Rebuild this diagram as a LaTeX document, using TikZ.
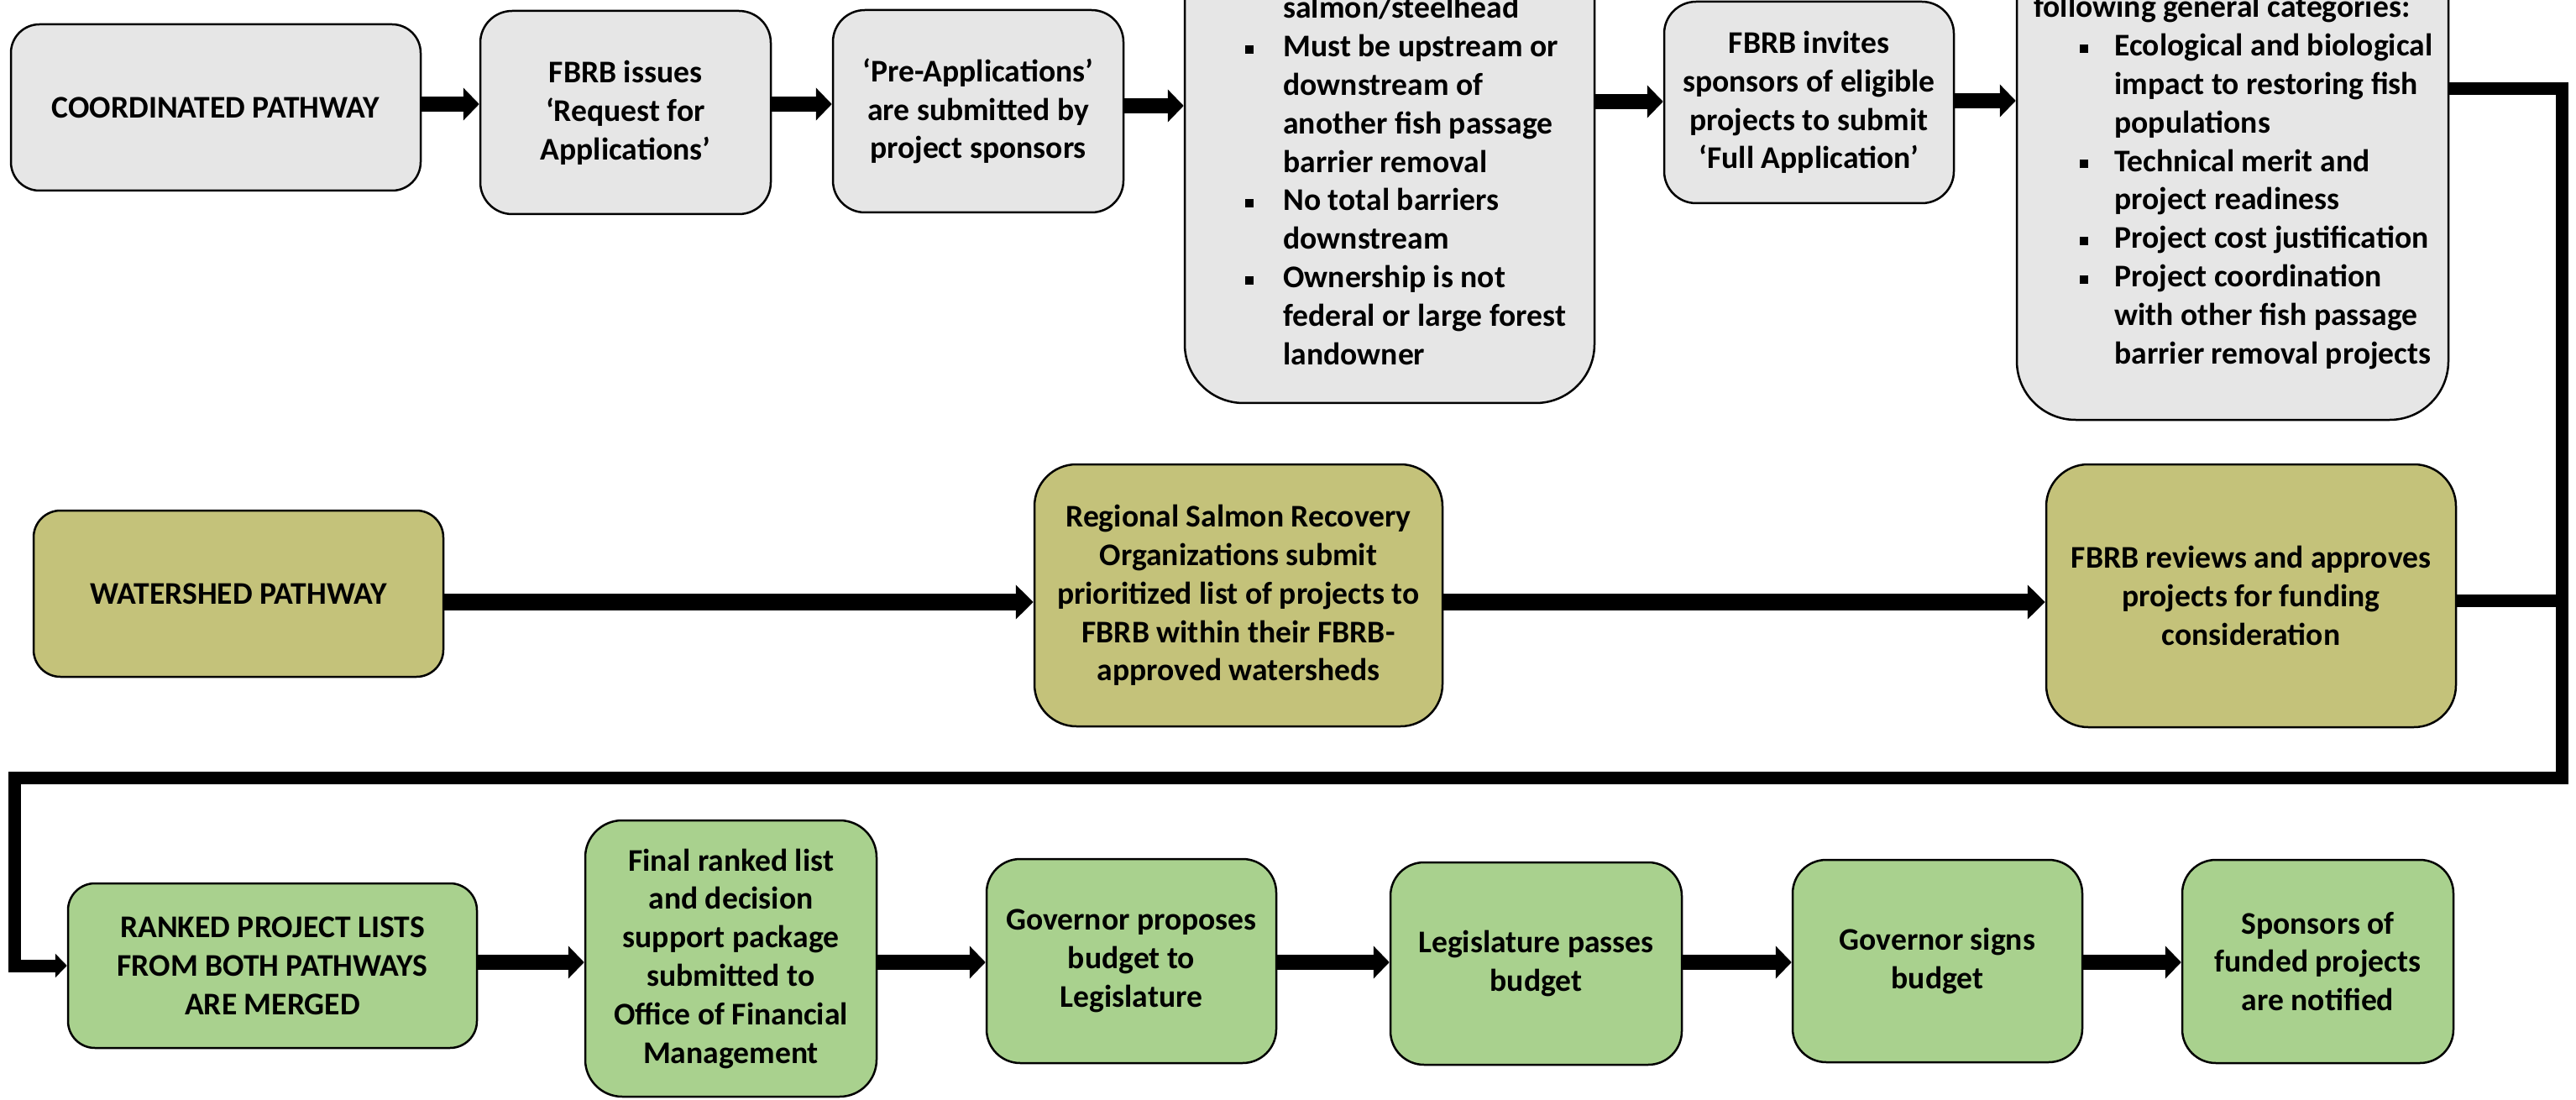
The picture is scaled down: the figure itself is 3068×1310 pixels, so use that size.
\documentclass[tikz,border=0pt]{standalone}
\usepackage{fontspec}
\setmainfont{Carlito}
\usetikzlibrary{arrows.meta}
\newlength{\pxu}\setlength{\pxu}{0.5pt}
\definecolor{boxgray}{RGB}{230,230,230}
\definecolor{boxolive}{RGB}{196,194,122}
\definecolor{boxgreen}{RGB}{169,209,142}
\newcommand{\boxfont}{\fontsize{18.8}{22.9}\selectfont\bfseries}
\newcommand{\bulsq}{\rule[2pt]{5pt}{5pt}}
\newcommand{\mybox}[8]{%
  \node[#2, minimum width={((#5)-(#3))*\pxu}, minimum height={((#6)-(#4))*\pxu}, rounded corners=#7] (#1) at ({((#3)+(#5))/2},{((#4)+(#6))/2}) {#8};}
\tikzset{
  box/.style={draw=black, line width=1.25pt, align=center, inner sep=0pt, font=\boxfont, text=black},
  graybox/.style={box, fill=boxgray},
  olivebox/.style={box, fill=boxolive},
  greenbox/.style={box, fill=boxgreen},
  listtext/.style={inner sep=0pt, font=\boxfont, text=black},
  arr/.style={line width=9pt, -{Triangle[length=9.5pt,width=19pt]}},
  warr/.style={line width=10pt, -{Triangle[length=10.5pt,width=20pt]}},
  retline/.style={line width=7.5pt, line join=miter},
  retarr/.style={retline, -{Triangle[length=7pt,width=14pt]}}
}
\begin{document}
\begin{tikzpicture}[x=0.5pt, y=-0.5pt]
\useasboundingbox (0,0) rectangle (3068,1310);
\fill[white] (0,0) rectangle (3068,1310);
\clip (0,0) rectangle (3068,1310);

% Row 1: coordinated pathway
\mybox{A}{graybox}{13}{29}{501}{227}{17pt}{COORDINATED PATHWAY}
\mybox{B}{graybox}{572}{13}{918}{255}{19pt}{FBRB issues\\‘Request for\\Applications’}
\mybox{C}{graybox}{992}{12}{1338}{253}{19pt}{‘Pre-Applications’\\are submitted by\\project sponsors}
\mybox{D}{graybox}{1411}{-238}{1899}{480}{35pt}{}
\mybox{E}{graybox}{1982}{2}{2327}{242}{19pt}{FBRB invites\\sponsors of eligible\\projects to submit\\‘Full Application’}
\mybox{F}{graybox}{2402}{-260}{2916}{500}{35pt}{}

\node[listtext, anchor=base west] (Dlist) at (1483,22) {\begin{tabular}[t]{@{}l@{}}
\hspace*{22.5pt}salmon/steelhead\\
\makebox[22.5pt][l]{\bulsq}Must be upstream or\\
\hspace*{22.5pt}downstream of\\
\hspace*{22.5pt}another fish passage\\
\hspace*{22.5pt}barrier removal\\
\makebox[22.5pt][l]{\bulsq}No total barriers\\
\hspace*{22.5pt}downstream\\
\makebox[22.5pt][l]{\bulsq}Ownership is not\\
\hspace*{22.5pt}federal or large forest\\
\hspace*{22.5pt}landowner
\end{tabular}};

\node[listtext, anchor=base west] (Flist) at (2422,21) {\begin{tabular}[t]{@{}l@{}}
following general categories:\\
\hspace*{27.5pt}\makebox[20.5pt][l]{\bulsq}Ecological and biological\\
\hspace*{48pt}impact to restoring fish\\
\hspace*{48pt}populations\\
\hspace*{27.5pt}\makebox[20.5pt][l]{\bulsq}Technical merit and\\
\hspace*{48pt}project readiness\\
\hspace*{27.5pt}\makebox[20.5pt][l]{\bulsq}Project cost justification\\
\hspace*{27.5pt}\makebox[20.5pt][l]{\bulsq}Project coordination\\
\hspace*{48pt}with other fish passage\\
\hspace*{48pt}barrier removal projects
\end{tabular}};

% Row 2: watershed pathway
\mybox{G}{olivebox}{40}{608}{528}{806}{16pt}{WATERSHED PATHWAY}
\mybox{H}{olivebox}{1232}{553}{1718}{865}{25pt}{Regional Salmon Recovery\\Organizations submit\\prioritized list of projects to\\FBRB within their FBRB-\\approved watersheds}
\mybox{I}{olivebox}{2437}{553}{2925}{866}{25pt}{FBRB reviews and approves\\projects for funding\\consideration}

% Row 3
\mybox{J}{greenbox}{81}{1052}{568}{1248}{16pt}{RANKED PROJECT LISTS\\FROM BOTH PATHWAYS\\ARE MERGED}
\mybox{K}{greenbox}{697}{977}{1044}{1306}{22pt}{Final ranked list\\and decision\\support package\\submitted to\\Office of Financial\\Management}
\mybox{L}{greenbox}{1175}{1023}{1520}{1266}{20pt}{Governor proposes\\budget to\\Legislature}
\mybox{M}{greenbox}{1656}{1027}{2003}{1268}{20pt}{Legislature passes\\budget}
\mybox{N}{greenbox}{2135}{1024}{2480}{1265}{20pt}{Governor signs\\budget}
\mybox{O}{greenbox}{2599}{1024}{2922}{1266}{20pt}{Sponsors of\\funded projects\\are notified}

% Row 1 arrows
\draw[arr] ([yshift=2pt]A.east) -- ([yshift=5pt]B.west);
\draw[arr] ([yshift=5pt]B.east) -- ([yshift=4.25pt]C.west);
\draw[arr] ([yshift=3.25pt]C.east) -- ([yshift=-2.5pt]D.west);
\draw[arr] (D.east) -- ([yshift=0.5pt]E.west);
\draw[arr] ([yshift=1pt]E.east) -- (F.west);

% Row 2 arrows
\draw[warr] ([yshift=-5pt]G.east) -- ([yshift=-4pt]H.west);
\draw[warr] ([yshift=-4pt]H.east) -- ([yshift=-3.75pt]I.west);

% Return connector
\coordinate (tr) at (3051,106);
\coordinate (br) at (3051,926);
\coordinate (bl) at (17,926);
\coordinate (ij) at (3051,715);
\draw[retline] ([yshift=-2.75pt]I.east) -- (ij);
\draw[retarr] ([yshift=7pt]F.east) -- (tr) -- (br) -- (bl) -- (bl |- J.west) -- (J.west);

% Row 3 arrows
\draw[arr] ([yshift=2pt]J.east) -- ([yshift=-2.25pt]K.west);
\draw[arr] ([yshift=-2.25pt]K.east) -- ([yshift=-0.75pt]L.west);
\draw[arr] ([yshift=-0.75pt]L.east) -- ([yshift=0.75pt]M.west);
\draw[arr] ([yshift=0.75pt]M.east) -- ([yshift=-0.75pt]N.west);
\draw[arr] ([yshift=-0.75pt]N.east) -- ([yshift=-0.5pt]O.west);
\end{tikzpicture}
\end{document}
